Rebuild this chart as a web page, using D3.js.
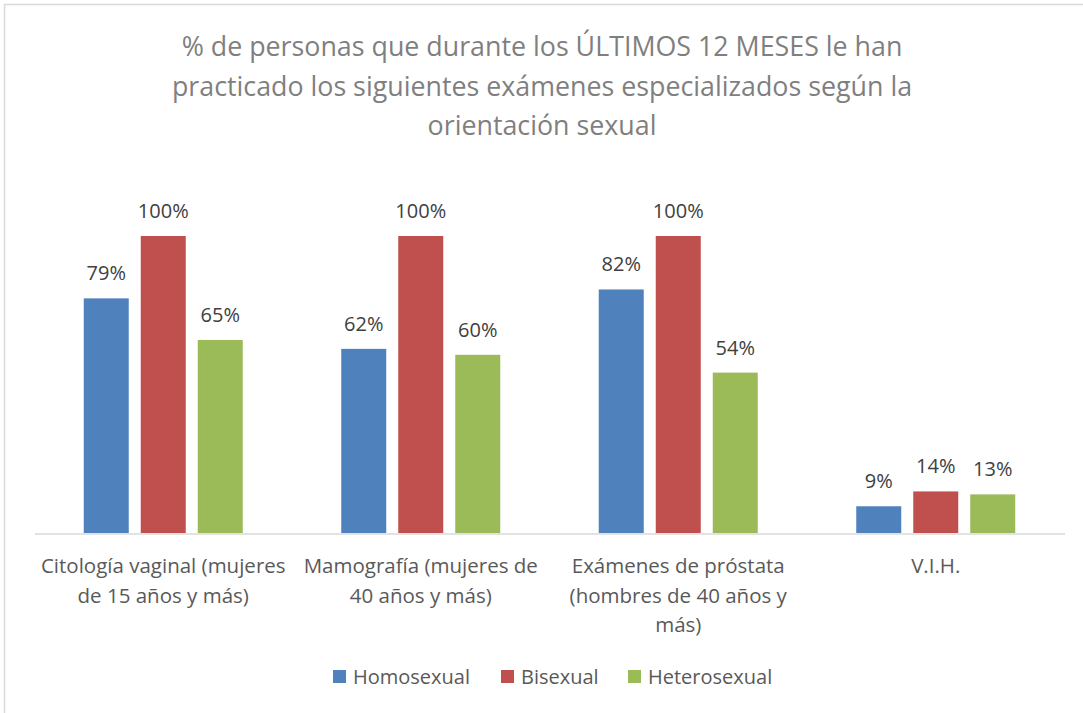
<!DOCTYPE html>
<html>
<head>
<meta charset="utf-8">
<script src="https://cdn.jsdelivr.net/npm/d3@7"></script>
<style>
  body { margin: 0; background: #fff; }
  text { font-family: "Open Sans", sans-serif; }
</style>
</head>
<body>
<svg id="chart" width="1083" height="713"></svg>
<script>
// data
var titleLines = ["% de personas que durante los ÚLTIMOS 12 MESES le han",
                  "practicado los siguientes exámenes especializados según la",
                  "orientación sexual"];
var categories = ["Citología vaginal (mujeres\nde 15 años y más)",
                  "Mamografía (mujeres de\n40 años y más)",
                  "Exámenes de próstata\n(hombres de 40 años y\nmás)",
                  "V.I.H."];
var seriesNames = ["Homosexual", "Bisexual", "Heterosexual"];
var homosexual = [0.79, 0.62, 0.82, 0.09];
var bisexual = [1.00, 1.00, 1.00, 0.14];
var heterosexual = [0.65, 0.60, 0.54, 0.13];
var colors = ["#4F81BD", "#C0504D", "#9BBB59"];

var svg = d3.select("#chart");

// chart border
svg.append("rect")
	.attr("x", 4.5).attr("y", 4.5)
	.attr("width", 1090).attr("height", 720)
	.attr("fill", "#fff")
	.attr("stroke", "#d9d9d9")
	.attr("stroke-width", 1.5);

// title
svg.append("g").selectAll("text")
	.data(titleLines)
	.enter().append("text")
	.attr("x", 542)
	.attr("y", function(d, i) { return 56 + i * 39.5; })
	.attr("text-anchor", "middle")
	.attr("fill", "#7f7f7f")
	.style("font-size", "26.8px")
	.text(function(d) { return d; });

var x0 = d3.scaleBand().domain(categories).range([34.5, 1064.5]).padding(0);
var x1 = d3.scaleBand().domain(seriesNames).range([0, 171])
	.paddingInner(12 / 57).paddingOuter(6 / 57);
var y = d3.scaleLinear().domain([0, 1]).range([533, 236]);

var groupOffset = (x0.bandwidth() - 171) / 2;

var table = categories.map(function(c, i) {
	return { cat: c, vals: [homosexual[i], bisexual[i], heterosexual[i]] };
});

// axis line
var xAxis = d3.axisBottom(x0).tickSize(0).tickFormat("");
var ax = svg.append("g").attr("transform", "translate(0,533.5)").call(xAxis);
ax.select(".domain").attr("stroke", "#d9d9d9").attr("stroke-width", 1.5);

var groups = svg.append("g").selectAll(".grp")
	.data(table)
	.enter().append("g")
	.attr("class", "grp")
	.attr("transform", function(d) { return "translate(" + (x0(d.cat) + groupOffset) + ",0)"; });

groups.selectAll("rect")
	.data(function(d) { return d.vals.map(function(v, j) { return { s: seriesNames[j], v: v, j: j }; }); })
	.enter().append("rect")
	.attr("x", function(d) { return x1(d.s); })
	.attr("y", function(d) { return y(d.v); })
	.attr("width", x1.bandwidth())
	.attr("height", function(d) { return y(0) - y(d.v); })
	.attr("fill", function(d) { return colors[d.j]; });

groups.selectAll(".lbl")
	.data(function(d) { return d.vals.map(function(v, j) { return { s: seriesNames[j], v: v }; }); })
	.enter().append("text")
	.attr("class", "lbl")
	.attr("x", function(d) { return x1(d.s) + x1.bandwidth() / 2; })
	.attr("y", function(d) { return y(d.v) - 18; })
	.attr("text-anchor", "middle")
	.attr("fill", "#404040")
	.style("font-size", "20px")
	.text(function(d) { return d3.format(".0%")(d.v); });

// category labels
svg.append("g").selectAll(".cat")
	.data(categories)
	.enter().append("text")
	.attr("class", "cat")
	.attr("text-anchor", "middle")
	.attr("fill", "#595959")
	.style("font-size", "20.5px")
	.each(function(d) {
		var t = d3.select(this);
		d.split("\n").forEach(function(line, i) {
			t.append("tspan")
				.attr("x", x0(d) + x0.bandwidth() / 2)
				.attr("y", 573 + i * 29.5)
				.text(line);
		});
	});

// legend
var legendX = [333, 501, 628];
var leg = svg.append("g").selectAll(".leg")
	.data(seriesNames)
	.enter().append("g")
	.attr("class", "leg")
	.attr("transform", function(d, i) { return "translate(" + legendX[i] + ",670)"; });
leg.append("rect")
	.attr("width", 13).attr("height", 13)
	.attr("fill", function(d, i) { return colors[i]; });
leg.append("text")
	.attr("x", 20).attr("y", 13.5)
	.attr("fill", "#595959")
	.style("font-size", "20px")
	.text(function(d) { return d; });
</script>
</body>
</html>
